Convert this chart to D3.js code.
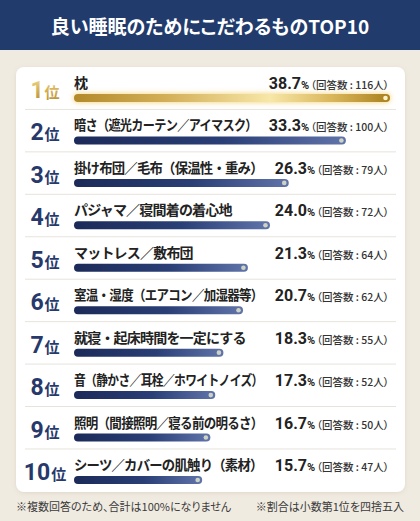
<!DOCTYPE html>
<html><head><meta charset="utf-8">
<script src="https://cdn.jsdelivr.net/npm/d3@7"></script>
<style>
html,body{margin:0;padding:0;background:#f0ebe1;}
svg{display:block;}
text{font-feature-settings:"palt";}
text.lab{font-feature-settings:normal;}
.jp{font-family:"Noto Sans CJK JP","Noto Sans",sans-serif;}
.rb{font-family:Roboto,sans-serif;}
</style></head>
<body>
<svg id="chart" width="420" height="521"></svg>
<script>
const title = "良い睡眠のためにこだわるものTOP10";
const ranks = [1,2,3,4,5,6,7,8,9,10];
const labels = ["枕","暗さ（遮光カーテン／アイマスク）","掛け布団／毛布（保温性・重み）","パジャマ／寝間着の着心地","マットレス／敷布団","室温・湿度（エアコン／加湿器等）","就寝・起床時間を一定にする","音（静かさ／耳栓／ホワイトノイズ）","照明（間接照明／寝る前の明るさ）","シーツ／カバーの肌触り（素材）"];
const percents = [38.7,33.3,26.3,24.0,21.3,20.7,18.3,17.3,16.7,15.7];
const counts = [116,100,79,72,64,62,55,52,50,47];
const noteLeft = "※複数回答のため、合計は100%になりません";
const noteRight = "※割合は小数第1位を四捨五入";

const W = 420, H = 521;
const svg = d3.select("#chart");
const defs = svg.append("defs");

// gradients
const navy = defs.append("linearGradient").attr("id","navyGrad").attr("x1","0").attr("x2","1");
[["0%","#1b2a58"],["55%","#2a3f76"],["100%","#6074aa"]].forEach(s=>navy.append("stop").attr("offset",s[0]).attr("stop-color",s[1]));
const gold = defs.append("linearGradient").attr("id","goldGrad").attr("x1","0").attr("x2","1");
[["0%","#b38a2a"],["30%","#d4b05a"],["62%","#f7e7a8"],["82%","#d9b55a"],["100%","#a9801f"]].forEach(s=>gold.append("stop").attr("offset",s[0]).attr("stop-color",s[1]));
const goldText = defs.append("linearGradient").attr("id","goldText").attr("x1","0").attr("x2","0").attr("y1","0").attr("y2","1");
[["0%","#f2dc8e"],["50%","#d4af55"],["100%","#b18a2e"]].forEach(s=>goldText.append("stop").attr("offset",s[0]).attr("stop-color",s[1]));
const glow = defs.append("filter").attr("id","glow").attr("x","-10%").attr("y","-150%").attr("width","120%").attr("height","400%");
glow.append("feGaussianBlur").attr("stdDeviation",2.5);
const shadow = defs.append("filter").attr("id","shadow").attr("x","-5%").attr("y","-5%").attr("width","110%").attr("height","110%");
shadow.append("feDropShadow").attr("dx",0).attr("dy",1).attr("stdDeviation",2).attr("flood-color","#8a7a5a").attr("flood-opacity",0.18);

// background + header
svg.append("rect").attr("width",W).attr("height",H).attr("fill","#f0ebe1");
svg.append("rect").attr("width",W).attr("height",50).attr("fill","#213b6d");
svg.append("text").attr("class","jp").attr("x",W/2).attr("y",33.5).attr("text-anchor","middle")
  .attr("font-size",19).attr("font-weight",700).attr("fill","#fff").text(title);

// card
const cardTop = 67, cardBottom = 492;
svg.append("rect").attr("x",16).attr("y",cardTop).attr("width",389).attr("height",cardBottom-cardTop)
  .attr("rx",8).attr("fill","#fff").attr("filter","url(#shadow)");

const y = d3.scaleBand().domain(ranks).range([cardTop, cardBottom-0.6]).padding(0);
const x = d3.scaleLinear().domain([0, d3.max(percents)]).range([74, 390]);

const rows = svg.append("g").selectAll("g").data(ranks).join("g")
  .attr("transform", d => `translate(0,${y(d)})`);

// separators
rows.filter((d,i)=>i>0).append("line").attr("x1",25).attr("x2",396).attr("y1",0).attr("y2",0)
  .attr("stroke","#e7e3dc").attr("stroke-width",1);

// rank
const rk = rows.append("text").attr("x",45).attr("y",31).attr("text-anchor","middle")
  .attr("fill",(d,i)=> i===0 ? "url(#goldText)" : "#27396b");
rk.append("tspan").attr("class","rb").attr("font-size",23).attr("font-weight",700).text(d=>d);
rk.append("tspan").attr("class","jp").attr("font-size",15).attr("font-weight",700).attr("dx",1).text("位");

// percent
const pt = rows.append("text").attr("class","pct").attr("x",389).attr("y",22).attr("text-anchor","end").attr("fill","#222");
pt.append("tspan").attr("class","rb").attr("font-size",16).attr("font-weight",700).text((d,i)=>percents[i].toFixed(1));
pt.append("tspan").attr("class","rb").attr("font-size",11).attr("font-weight",700).text("%");
pt.append("tspan").attr("class","jp").attr("font-size",10.5).attr("font-weight",500).attr("dx",1.5).attr("fill","#333")
  .text((d,i)=>`（回答数 : ${counts[i]}人）`);

// labels (squeezed horizontally if they would run into the percent text)
const lab = rows.append("text").attr("class","jp lab").attr("x",0).attr("y",0)
  .attr("transform","translate(74,21)").attr("font-size",14).attr("font-weight",700)
  .attr("letter-spacing",-0.8).attr("fill","#222").text((d,i)=>labels[i]);
lab.each(function(d,i){
  const p = d3.select(this.parentNode).select("text.pct").node().getBBox();
  const avail = p.x - 12 - 74;
  const len = this.getComputedTextLength();
  if (len > avail) d3.select(this).attr("transform",`translate(74,21) scale(${avail/len},1)`);
});

// bars
const bh = 8;
rows.filter((d,i)=>i===0).append("rect").attr("x",x(0)-1).attr("y",31-bh/2-1)
  .attr("width",x(percents[0])-x(0)+2).attr("height",bh+2).attr("rx",5)
  .attr("fill","#f3d577").attr("opacity",0.8).attr("filter","url(#glow)");
rows.append("rect").attr("x",x(0)).attr("y",31-bh/2)
  .attr("width",(d,i)=>x(percents[i])-x(0)).attr("height",bh).attr("rx",bh/2)
  .attr("fill",(d,i)=> i===0 ? "url(#goldGrad)" : "url(#navyGrad)");
rows.append("circle").attr("cx",(d,i)=>x(percents[i])-4.5).attr("cy",31).attr("r",2.3)
  .attr("fill",(d,i)=> i===0 ? "#fbf1c8" : "#cdd3c4");

// footnotes
svg.append("text").attr("class","jp").attr("x",16).attr("y",511).attr("font-size",11).attr("fill","#3a3a3a").text(noteLeft);
svg.append("text").attr("class","jp").attr("x",404).attr("y",511).attr("text-anchor","end").attr("font-size",11).attr("fill","#3a3a3a").text(noteRight);
</script>
</body></html>
